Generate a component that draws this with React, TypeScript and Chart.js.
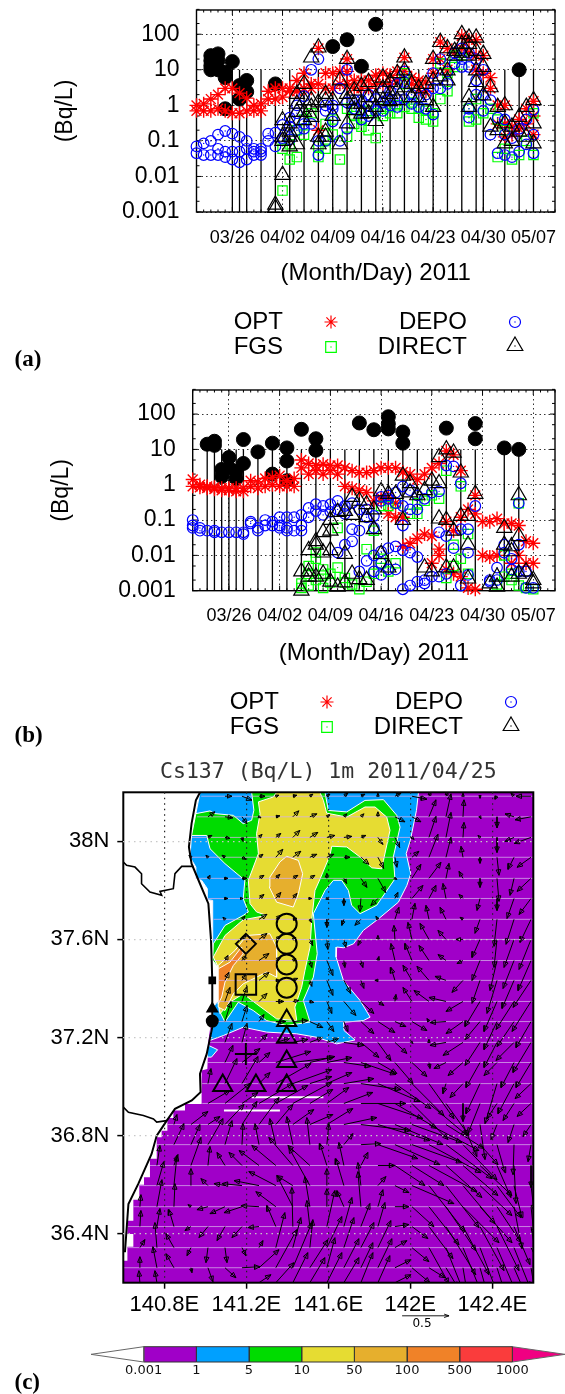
import React, { useEffect, useRef } from 'react';
import { Chart, registerables } from 'chart.js';
import { drawPoint } from 'chart.js/helpers';

Chart.register(...registerables);

type Group = [number, number[]];

// ---------- shared axis values ----------
const dateTickDays = [5, 12, 19, 26, 33, 40, 47];
const dateTickLabels = ['03/26', '04/02', '04/09', '04/16', '04/23', '04/30', '05/07'];
const logTicks = [100, 10, 1, 0.1, 0.01, 0.001];

// ---------- panel (a) ----------
const obsA: Group[] = [[2, [25, 18, 13, 10]], [3, [28, 18, 10]], [4, [8.5, 6, 0.8]], [5, [17]], [6, [3.6, 1.5]], [7, [5, 2.4]], [11, [4]], [19, [45]], [21, [70]], [23, [12.5]], [25, [190]], [45, [10]]];
const impulseDaysA = [5, 6, 7, 9, 11, 13, 15, 17, 19, 21, 23, 25, 27, 29, 31, 33, 35, 37, 39, 40, 43, 45, 47];
const impulseTopsA = [17, 10, 5, 10, 4, 10, 10, 10, 10, 10, 10, 10, 10, 10, 10, 10, 10, 10, 10, 10, 10, 10, 10];
const optA: Group[] = [[0, [1, 0.7]], [1, [1.1, 0.7]], [2, [1.5, 0.7]], [3, [2, 0.8]], [4, [3, 0.7]], [5, [3, 0.6]], [6, [2.2, 0.6]], [7, [1.6, 0.7]], [8, [1, 0.7]], [9, [1.1, 0.7]], [10, [2.5, 1.5]], [11, [3, 1.5]], [12, [3, 1.7]], [13, [3, 2.5]], [14, [5, 2.5]], [15, [8, 3]], [16, [4, 3]], [17, [40, 4, 0.2]], [18, [8, 3]], [19, [8, 3]], [20, [9, 4]], [21, [20, 9, 4]], [22, [5, 3]], [23, [5, 3]], [24, [5, 3]], [25, [7, 4]], [26, [8, 4]], [27, [7, 4]], [28, [9, 5]], [29, [22, 9]], [30, [6, 4]], [31, [5, 3]], [32, [4.5, 2.5]], [33, [20, 8]], [34, [60, 20]], [35, [40, 10]], [36, [30]], [37, [90, 40]], [38, [70, 30]], [39, [70, 25, 10]], [40, [25, 8]], [41, [6, 3]], [42, [1, 0.3]], [43, [1, 0.3, 0.13]], [44, [0.25, 0.15]], [45, [0.4, 0.22]], [46, [0.8, 0.3]], [47, [1.3, 0.5, 0.15]]];
const fgsA: Group[] = [[12, [0.004, 0.06]], [13, [0.03, 0.08]], [14, [0.035, 0.2]], [15, [0.15, 0.4]], [16, [0.6]], [17, [0.035, 0.07]], [18, [0.06, 0.3, 0.1]], [19, [0.15, 0.4]], [20, [0.03]], [21, [0.13, 0.8]], [22, [0.5, 0.3]], [23, [0.25, 0.4]], [24, [0.2, 0.7]], [25, [0.12, 0.6]], [26, [0.5, 0.8]], [27, [0.6, 0.9]], [28, [0.6, 1]], [29, [0.9, 4, 8]], [30, [0.8, 1.2]], [31, [0.45, 0.8]], [32, [0.4, 0.7]], [33, [0.35, 0.6]], [34, [15, 1.5]], [35, [2.5, 8]], [36, [12, 25]], [37, [14, 30]], [38, [0.35, 0.8]], [39, [1.5, 0.4]], [40, [0.6]], [41, [0.8]], [42, [0.035, 0.4]], [43, [0.06, 0.2]], [44, [0.03]], [45, [0.04]], [46, [0.1]], [47, [0.04, 0.6]]];
const depoA: Group[] = [[0, [0.07, 0.045]], [1, [0.085, 0.04]], [2, [0.1, 0.04]], [3, [0.15, 0.06, 0.04]], [4, [0.19, 0.05, 0.035]], [5, [0.16, 0.05, 0.03]], [6, [0.13, 0.05, 0.025]], [7, [0.1, 0.06, 0.03]], [8, [0.06, 0.05, 0.04]], [9, [0.06, 0.05, 0.04]], [10, [0.16, 0.1]], [11, [0.17, 0.07]], [12, [0.28, 0.12]], [13, [0.45, 0.25, 0.11]], [14, [1, 0.6, 0.2]], [15, [1.8, 0.22, 0.3]], [16, [10, 0.3]], [17, [20, 0.04, 0.1]], [18, [1, 0.7, 0.1]], [19, [1, 0.35, 0.8]], [20, [3, 0.1]], [21, [10, 1.2, 0.22]], [22, [1.4, 0.8]], [23, [1.4, 0.7, 0.4]], [24, [2, 1, 0.5]], [25, [1.5, 0.7]], [26, [2.5, 1.2, 0.7]], [27, [2.5, 1.5, 1]], [28, [4, 1.5, 0.9]], [29, [9, 4.5, 1.5]], [30, [2, 1.1]], [31, [1.6, 0.9]], [32, [2, 0.8]], [33, [8, 3, 0.55]], [34, [20, 3]], [35, [9, 4]], [36, [15, 30]], [37, [40, 20, 12]], [38, [30, 12, 0.8, 0.45]], [39, [20, 5, 2]], [40, [10, 1.9, 0.7]], [41, [1.4, 0.15]], [42, [0.45, 0.045]], [43, [0.4, 0.15, 0.04]], [44, [0.12, 0.035]], [45, [0.22, 0.05]], [46, [0.4, 0.08]], [47, [0.75, 0.15, 0.045]]];
const directA: Group[] = [[11, [0.0016, 0.0013]], [12, [0.011, 0.38, 0.13, 0.1]], [13, [0.31, 0.18, 0.13, 0.07]], [14, [2.1, 1.1, 0.65, 0.08]], [15, [4, 1.4, 0.65, 0.38]], [16, [22, 1.4, 0.9, 0.47]], [17, [42, 0.13, 0.08, 1.2]], [18, [2.1, 1.4, 0.18, 0.13]], [19, [1.4, 0.5]], [20, [5, 0.08]], [21, [20, 2.1, 1.4, 0.31]], [22, [2.6, 1.1, 0.73]], [23, [3.5, 1.1, 0.58]], [24, [4.5, 1.7, 0.6]], [25, [0.36, 1.7, 0.9]], [26, [6, 3, 1.4]], [27, [4.5, 2.1, 1.3]], [28, [8, 2.6, 1.4]], [29, [22, 9.5, 3.2]], [30, [4, 1.7]], [31, [3, 1.7]], [32, [4, 1.4]], [33, [20, 5, 0.9]], [34, [60, 6.5]], [35, [40, 9.5, 5]], [36, [34, 25]], [37, [100, 53, 30]], [38, [80, 53, 25, 1.7, 0.9]], [39, [80, 34, 9.5, 4.5]], [40, [28, 12, 1.9]], [41, [3.2, 0.25]], [42, [0.9, 0.2]], [43, [1, 0.31, 0.085]], [44, [0.25, 0.1]], [45, [0.47, 0.18]], [46, [0.9, 0.13]], [47, [1.4, 0.31, 0.085]]];

// ---------- panel (b) ----------
const obsB: Group[] = [[2, [14]], [3, [17, 13]], [4, [2.7, 1.7]], [5, [5.9, 3]], [6, [2.4, 1.5]], [7, [19, 4]], [9, [8.5]], [11, [15, 2]], [13, [11, 4.7, 1.3]], [15, [37]], [17, [20, 9.5]], [23, [56]], [25, [36]], [27, [84, 53, 38]], [29, [31, 15]], [35, [40]], [39, [54, 20]], [43, [11]], [45, [10]]];
const impulseDaysB = [2, 3, 4, 5, 6, 7, 9, 11, 13, 15, 17, 19, 21, 23, 25, 27, 29, 31, 33, 35, 37, 39, 43, 45];
const impulseTopsB = [10, 10, 10, 10, 10, 10, 10, 10, 10, 10, 10, 10, 10, 10, 10, 10, 10, 10, 10, 10, 10, 10, 10, 10];
const optB: Group[] = [[0, [1.4, 0.9]], [1, [1, 0.85]], [2, [0.9, 0.8]], [3, [0.85, 0.75]], [4, [0.8, 0.7]], [5, [0.8, 0.7]], [6, [0.8, 0.65]], [7, [0.8, 0.65]], [8, [1.3, 0.9]], [9, [1.2, 0.8]], [10, [1.5, 0.9]], [11, [1.6, 1]], [12, [1.8, 0.9]], [13, [1.3, 0.9]], [14, [1.5, 0.9]], [15, [5, 3]], [16, [4, 2]], [17, [3.5, 2.5]], [18, [3.8, 2]], [19, [3.5, 2.5]], [20, [3.5, 2]], [21, [3, 0.9]], [22, [2.5, 0.8]], [23, [2.2, 0.7]], [24, [2.2, 0.6]], [25, [2.5, 0.35]], [26, [3, 0.43, 0.35]], [27, [3, 0.43, 0.15]], [28, [3, 0.3, 0.12]], [29, [2.3, 0.12, 0.018]], [30, [2, 0.022]], [31, [1.4, 0.03]], [32, [2, 0.04]], [33, [3, 0.035, 0.006]], [34, [4, 0.015, 0.01]], [35, [9, 0.09, 0.004]], [36, [7, 0.05, 0.003]], [37, [2.5, 0.12, 0.0025]], [38, [0.2, 0.0012]], [39, [0.5, 0.15, 0.0011]], [40, [0.09, 0.01]], [41, [0.09, 0.009]], [42, [0.11, 0.01]], [43, [0.08]], [44, [0.08, 0.006]], [45, [0.07, 0.01]], [46, [0.025, 0.006]], [47, [0.022, 0.006]]];
const fgsB: Group[] = [[15, [0.0016, 0.0012]], [16, [0.005, 0.003, 0.0014]], [17, [0.008, 0.012, 0.002]], [18, [0.004, 0.0012, 0.0027]], [19, [0.003, 0.0017]], [20, [0.06, 0.0045]], [21, [0.0023, 0.0017]], [22, [0.0015]], [23, [0.0011]], [24, [0.015, 0.0018]], [25, [0.05, 0.003]], [26, [0.25, 0.006, 0.008]], [27, [0.25, 0.0035]], [28, [0.3, 0.006]], [30, [0.15]], [31, [0.15, 0.3]], [32, [0.35]], [33, [0.5]], [34, [0.4]], [35, [2.5, 0.0023]], [36, [0.02, 0.005]], [37, [0.9, 0.008]], [38, [0.04, 0.003]], [42, [0.0015]], [43, [0.0025, 0.01]], [44, [0.002, 0.003]], [45, [0.3, 0.0014]], [46, [0.0012]], [47, [0.0011]]];
const depoB: Group[] = [[0, [0.1, 0.07, 0.06]], [1, [0.06, 0.05]], [2, [0.05]], [3, [0.05, 0.045]], [4, [0.045]], [5, [0.045]], [6, [0.045]], [7, [0.04, 0.045]], [8, [0.09, 0.08]], [9, [0.06, 0.05]], [10, [0.1, 0.07]], [11, [0.09, 0.07]], [12, [0.12, 0.06, 0.07]], [13, [0.12, 0.05, 0.06]], [14, [0.12, 0.05]], [15, [0.14, 0.07, 0.05]], [16, [0.22, 0.12]], [17, [0.28, 0.18]], [18, [0.25, 0.14]], [19, [0.28, 0.17]], [20, [0.35, 0.2, 0.012]], [21, [0.25, 0.15, 0.02]], [22, [0.3, 0.055, 0.025]], [23, [0.2, 0.05, 0.0035]], [24, [0.2, 0.12, 0.007]], [25, [0.13, 0.06, 0.0035, 0.01]], [26, [0.45, 0.35, 0.013, 0.0028, 0.006]], [27, [0.4, 0.5, 0.016, 0.004]], [28, [0.6, 0.3, 0.018, 0.004]], [29, [0.9, 0.25, 0.07, 0.014, 0.0011]], [30, [0.7, 0.2, 0.012, 0.0014]], [31, [0.5, 0.2, 0.009, 0.0018]], [32, [0.4, 0.002, 0.0016]], [33, [0.6, 0.0025]], [34, [0.65, 0.045, 0.0025]], [35, [3.5, 0.035, 0.003]], [36, [3.3, 0.016]], [37, [1.1, 0.055, 0.0014]], [38, [0.055, 0.012, 0.0028]], [39, [0.25]], [41, [0.0018, 0.002]], [42, [0.0045, 0.002]], [43, [0.02, 0.012]], [44, [0.008, 0.004]], [45, [0.3, 0.02, 0.0035]], [46, [0.0035, 0.0012]], [47, [0.0012]]];
const directB: Group[] = [[15, [0.001, 0.0035]], [16, [0.0035, 0.014, 0.0025]], [17, [0.02, 0.025, 0.0025]], [18, [0.045, 0.012, 0.003]], [19, [0.05, 0.014, 0.1, 0.0018]], [20, [0.17, 0.0013]], [21, [0.011, 0.18, 0.0017]], [22, [0.45, 0.14, 0.003]], [23, [0.35, 0.0021]], [24, [0.28, 0.12, 0.002]], [25, [0.2, 0.055]], [26, [0.65, 0.011]], [27, [0.55, 0.0045]], [28, [0.55]], [29, [1.8, 0.1]], [30, [1.1, 0.6]], [31, [0.5]], [32, [0.7, 0.0045]], [33, [1.3, 0.0035]], [34, [6, 1.1, 0.11]], [35, [10, 0.1, 0.0045]], [36, [8, 0.05, 0.0045]], [37, [2.2, 0.13]], [38, [0.13, 0.02, 0.0022]], [39, [0.55]], [41, [0.0016]], [42, [0.0025, 0.0013]], [43, [0.06, 0.02]], [44, [0.018, 0.0025, 0.013]], [45, [0.5, 0.035, 0.003]], [46, [0.0035]], [47, [0.002, 0.0016]]];

// ---------- panel (c): map outlines, [lon, lat] ----------
const oceanOutline = [[140.974, 38.2], [140.954, 38.113], [140.933, 38.024], [140.925, 37.936], [140.954, 37.895], [140.954, 37.848], [140.982, 37.841], [141.01, 37.807], [141.01, 37.762], [141.036, 37.759], [141.036, 37.514], [141.063, 37.487], [141.063, 37.351], [141.039, 37.324], [141.015, 37.188], [141.01, 37.072], [140.982, 37.065], [140.982, 36.929], [140.901, 36.929], [140.901, 36.902], [140.844, 36.902], [140.844, 36.872], [140.815, 36.872], [140.815, 36.82], [140.787, 36.82], [140.787, 36.793], [140.763, 36.793], [140.763, 36.705], [140.73, 36.705], [140.73, 36.63], [140.701, 36.63], [140.701, 36.599], [140.678, 36.599], [140.678, 36.538], [140.649, 36.538], [140.649, 36.453], [140.62, 36.453], [140.62, 36.399], [140.649, 36.399], [140.649, 36.347], [140.62, 36.347], [140.62, 36.29], [140.6, 36.29], [140.6, 36.2], [142.6, 36.2], [142.6, 38.2]];
const contour1 = [[142.04, 38.2], [142.03, 38.126], [142.0, 38.004], [141.98, 37.95], [142.002, 37.868], [141.983, 37.82], [141.942, 37.752], [141.845, 37.684], [141.771, 37.637], [141.723, 37.582], [141.674, 37.566], [141.641, 37.569], [141.638, 37.528], [141.674, 37.432], [141.755, 37.351], [141.804, 37.283], [141.771, 37.269], [141.674, 37.262], [141.677, 37.228], [141.73, 37.19], [141.641, 37.174], [141.543, 37.201], [141.446, 37.215], [141.299, 37.222], [141.185, 37.242], [141.088, 37.208], [141.023, 37.188], [141.039, 37.324], [141.063, 37.351], [141.063, 37.487], [141.036, 37.514], [141.036, 37.759], [141.01, 37.762], [141.01, 37.807], [140.982, 37.841], [140.954, 37.848], [140.954, 37.895], [140.925, 37.936], [140.933, 38.024], [140.954, 38.113], [140.974, 38.2]];
const contour1Small = [[141.01, 37.17], [141.06, 37.15], [141.03, 37.12], [141.01, 37.12]];
const contour5 = [[141.226, 38.2], [141.584, 38.2], [141.6, 38.126], [141.69, 38.12], [141.779, 38.167], [141.869, 38.17], [141.934, 38.106], [141.95, 38.058], [141.917, 37.936], [141.925, 37.847], [141.836, 37.739], [141.755, 37.705], [141.714, 37.739], [141.698, 37.8], [141.665, 37.841], [141.625, 37.841], [141.584, 37.8], [141.56, 37.759], [141.527, 37.705], [141.546, 37.542], [141.527, 37.446], [141.478, 37.351], [141.511, 37.263], [141.397, 37.249], [141.299, 37.269], [141.234, 37.31], [141.161, 37.344], [141.096, 37.263], [141.068, 37.31], [141.063, 37.351], [141.063, 37.487], [141.036, 37.514], [141.039, 37.582], [141.096, 37.657], [141.185, 37.698], [141.21, 37.712], [141.185, 37.766], [141.193, 37.841], [141.096, 37.909], [141.023, 37.97], [141.007, 38.024], [140.933, 38.024], [140.954, 38.113], [141.023, 38.124], [141.047, 38.113], [141.137, 38.106], [141.185, 38.072], [141.226, 38.086], [141.237, 38.127]];
const contour10 = [[141.348, 38.2], [141.559, 38.2], [141.576, 38.167], [141.592, 38.115], [141.69, 38.099], [141.779, 38.14], [141.828, 38.14], [141.885, 38.099], [141.901, 38.045], [141.869, 37.922], [141.861, 37.888], [141.812, 37.892], [141.755, 37.936], [141.69, 37.977], [141.617, 37.98], [141.608, 37.943], [141.56, 37.847], [141.535, 37.8], [141.519, 37.678], [141.511, 37.569], [141.486, 37.473], [141.47, 37.405], [141.437, 37.324], [141.446, 37.269], [141.348, 37.276], [141.25, 37.337], [141.185, 37.378], [141.12, 37.344], [141.072, 37.297], [141.063, 37.378], [141.063, 37.487], [141.039, 37.528], [141.096, 37.616], [141.185, 37.68], [141.299, 37.698], [141.25, 37.712], [141.218, 37.746], [141.21, 37.841], [141.259, 37.95], [141.25, 38.031], [141.267, 38.113], [141.259, 38.161], [141.332, 38.181]];
const contour50North = [[141.397, 37.939], [141.454, 37.922], [141.475, 37.868], [141.454, 37.786], [141.429, 37.732], [141.348, 37.752], [141.312, 37.814], [141.315, 37.854], [141.364, 37.916]];
const contour50South = [[141.202, 37.616], [141.315, 37.623], [141.348, 37.569], [141.348, 37.446], [141.299, 37.467], [141.25, 37.446], [141.185, 37.419], [141.137, 37.378], [141.096, 37.31], [141.063, 37.324], [141.063, 37.494], [141.145, 37.555]];
const contour100 = [[141.063, 37.48], [141.12, 37.507], [141.177, 37.569], [141.185, 37.541], [141.137, 37.494], [141.096, 37.426], [141.08, 37.365], [141.063, 37.337]];
const coastLine = [[140.974, 38.199], [140.954, 38.167], [140.933, 38.072], [140.92, 37.977], [140.933, 37.909], [140.974, 37.827], [141.015, 37.746], [141.028, 37.596], [141.034, 37.433], [141.034, 37.242], [141.007, 37.133], [140.974, 37.052], [140.977, 36.977], [140.934, 36.943], [140.852, 36.909], [140.812, 36.861], [140.763, 36.8], [140.738, 36.725], [140.673, 36.603], [140.625, 36.521], [140.608, 36.324]];
const borderNorth = [[140.6, 37.916], [140.616, 37.902], [140.657, 37.895], [140.689, 37.868], [140.689, 37.827], [140.73, 37.793], [140.787, 37.78], [140.779, 37.796], [140.844, 37.807], [140.852, 37.868], [140.885, 37.898], [140.941, 37.898]];
const borderSouth = [[140.6, 36.916], [140.625, 36.895], [140.698, 36.882], [140.747, 36.868], [140.763, 36.855], [140.812, 36.861]];
const whiteStreaks = [[[141.226, 36.956], [141.576, 36.956]], [[141.091, 36.902], [141.364, 36.902]]];

// ---------- panel (c): sites ----------
const circleSites = [[141.397, 37.664], [141.397, 37.582], [141.397, 37.498], [141.397, 37.403]];
const triangleSites = [[141.397, 37.269], [141.397, 37.201], [141.397, 37.102], [141.397, 37.004], [141.085, 37.004], [141.247, 37.004]];
const squareSites = [[141.198, 37.416]];
const diamondSites = [[141.198, 37.582]];
const crossSites = [[141.198, 37.133]];
const plantSquare = [[141.034, 37.433]];
const plantTriangle = [[141.034, 37.317]];
const plantCircle = [[141.034, 37.267]];

// ---------- panel (c): current vectors ----------
const gridLons = [140.681, 140.764, 140.847, 140.93, 141.013, 141.096, 141.179, 141.262, 141.344, 141.427, 141.51, 141.593, 141.676, 141.759, 141.842, 141.925, 142.008, 142.091, 142.174, 142.257, 142.34, 142.423, 142.506, 142.589];
const gridLats = [38.184, 38.1, 38.016, 37.935, 37.849, 37.767, 37.682, 37.6, 37.514, 37.433, 37.347, 37.265, 37.18, 37.098, 37.012, 36.931, 36.845, 36.763, 36.678, 36.596, 36.51, 36.429, 36.343, 36.261, 36.2];
const rowStartLons = [140.98, 140.96, 140.935, 140.93, 140.955, 141.01, 141.04, 141.04, 141.04, 141.065, 141.065, 141.04, 141.02, 141.01, 140.985, 140.985, 140.815, 140.763, 140.73, 140.678, 140.649, 140.62, 140.62, 140.6];
// each row: column, u, v, column, u, v ... (cm/s, about one pixel per unit)
const currents: number[][] = [
  [5,7,0,6,10,-4,7,6,0,8,3,1,9,4,1,10,3,2,11,3,2,12,4,3,13,4,2,14,0,3,15,6,3,16,15,-3,17,2,5,18,2,5,19,0,3,20,0,-2,21,-2,-3,22,-3,3,23,-15,0],
  [4,7,5,5,8,-1,6,5,-7,7,2,-1,8,4,1,9,6,6,10,7,3,11,3,2,12,3,3,13,3,3,14,0,5,15,10,-5,16,9,-5,17,7,17,18,5,23,19,1,17,20,1,-2,21,0,-11,22,-9,3,23,-16,-3],
  [4,4,2,5,5,-1,6,1,-4,7,3,3,8,5,4,9,7,7,10,8,5,11,8,2,12,8,1,13,5,2,14,5,-7,15,5,-10,16,2,-2,17,7,21,18,5,25,19,1,15,20,-2,2,21,0,-15,22,-9,-4,23,-17,-6],
  [3,-2,2,4,-2,2,5,-3,2,6,4,-2,7,4,3,8,7,8,9,8,6,10,7,3,11,7,3,12,6,0,13,8,-7,14,6,-11,15,2,-10,16,7,6,17,9,23,18,5,20,19,-2,11,20,0,-6,21,2,-18,22,-6,-12,23,-14,-10],
  [4,2,3,5,3,0,6,5,0,7,5,3,8,4,4,9,5,3,10,5,3,11,0,5,12,3,-5,13,6,-9,14,8,-14,15,2,-1,16,9,14,17,12,16,18,3,15,19,-4,7,20,0,-9,21,2,-23,22,-4,-17,23,-14,-13],
  [5,3,0,6,1,0,7,5,4,8,5,6,9,4,5,10,2,0,11,2,-1,12,0,-7,13,-1,-13,14,-7,-7,15,3,6,16,11,13,17,7,13,18,-3,15,19,-4,4,20,-3,-12,21,0,-12,22,-7,-20,23,-12,-16],
  [5,-2,2,6,3,3,7,8,5,8,5,4,9,4,1,10,2,-3,11,0,-8,12,-2,-6,13,-6,-6,14,-2,3,15,4,12,16,3,16,17,-3,14,18,-6,12,19,-3,2,20,-5,-14,21,-3,-27,22,-8,-25,23,-11,-23],
  [6,4,4,7,8,6,8,5,3,9,3,2,10,3,-6,11,1,-10,12,2,-8,13,-3,-6,14,0,4,15,-1,14,16,-4,17,17,-9,16,18,-8,9,19,-7,0,20,-8,-18,21,-3,-28,22,-10,-28,23,-12,-30],
  [5,3,5,6,4,5,7,10,7,8,5,3,9,3,2,10,2,-7,11,6,-15,12,1,-7,13,2,-7,14,1,4,15,-4,17,16,-7,17,17,-10,15,18,-8,6,19,-6,-3,20,-8,-20,21,-7,-30,22,-11,-28,23,-13,-30],
  [5,4,8,6,4,6,7,10,8,8,4,0,9,5,2,10,2,-6,11,6,-15,12,7,-13,13,3,-8,14,-3,0,15,-4,13,16,-9,15,17,-12,14,18,-11,4,19,-11,-12,20,-8,-23,21,-10,-33,22,-12,-28,23,-18,-27],
  [5,5,14,6,5,15,7,8,8,8,8,0,9,6,1,10,4,-1,11,5,-12,12,12,-14,13,13,-12,14,6,-4,15,1,7,16,-9,14,17,-15,11,18,-17,4,19,-17,-10,20,-15,-25,21,-13,-30,22,-18,-28,23,-19,-30],
  [5,6,20,6,5,16,7,5,7,8,10,0,9,15,1,10,13,-6,11,7,-10,12,4,-10,13,13,-12,14,17,-11,15,11,-5,16,15,-9,17,-2,3,18,-16,-1,19,-17,-12,20,-15,-18,21,-13,-28,22,-17,-25,23,-15,-26],
  [5,7,19,6,5,19,7,8,8,8,14,4,9,15,3,10,13,5,11,12,4,12,20,-3,13,18,-15,14,13,-18,15,12,-11,16,1,-1,17,0,3,18,-16,-3,19,-20,-13,20,-15,-23,21,-13,-25,22,-18,-18,23,-18,-30],
  [5,8,17,6,18,14,7,11,10,8,35,11,9,40,5,10,25,6,11,25,5,12,27,-4,13,35,-12,14,19,-11,15,18,-21,16,15,-14,17,1,-6,18,-12,-6,19,-15,-13,20,-14,-25,21,-13,-13,22,-13,-25,23,-15,-25],
  [4,3,15,5,12,25,6,16,27,7,11,11,8,35,20,9,39,14,10,22,7,11,25,11,12,30,5,13,40,-6,14,42,-18,15,36,-25,16,32,-32,17,25,-35,18,-3,-10,19,-13,-14,20,-14,-30,21,-12,-40,22,-16,-30,23,-16,-15],
  [4,22,13,5,25,20,6,16,11,7,34,20,8,32,18,9,39,21,10,23,14,11,22,16,12,29,11,13,45,0,14,45,-15,15,42,-25,16,36,-36,17,38,-32,18,23,-32,19,0,-18,20,-12,-30,21,-10,-15,22,-11,-17,23,-14,-13],
  [2,3,10,3,17,13,4,12,8,5,19,20,6,15,23,7,20,27,8,17,20,9,21,15,10,23,10,11,26,16,12,33,7,13,50,-6,14,52,-16,15,48,-20,16,50,-18,17,50,-26,18,38,-24,19,14,-32,20,5,-35,21,-6,-15,22,-6,-18,23,-8,-12],
  [2,10,21,3,9,20,4,15,26,5,7,24,6,1,21,7,-4,21,8,-6,26,9,-6,28,10,-3,27,11,2,21,12,9,11,13,20,1,14,40,-14,15,45,-20,16,50,-18,17,52,-28,18,46,-34,19,34,-35,20,18,-20,21,8,-28,22,-1,-30,23,-3,-17],
  [1,3,20,2,4,11,3,10,28,4,2,19,5,-8,13,6,-13,13,7,-20,15,8,-24,20,9,-24,28,10,-22,20,11,-7,22,12,-5,23,13,7,13,14,17,0,15,30,-20,16,32,-20,17,48,-26,18,36,-32,19,35,-30,20,32,-30,21,14,-32,22,2,-38,23,0,-22],
  [1,7,24,2,3,30,3,0,17,4,-7,7,5,-11,2,6,-20,2,7,-25,5,8,-27,14,9,-16,10,10,-21,38,11,0,17,12,-8,27,13,-3,23,14,8,9,15,14,-7,16,42,-18,17,36,-46,18,33,-42,19,32,-38,20,32,-30,21,24,-32,22,8,-32,23,3,-25],
  [0,1,12,1,5,27,2,1,23,3,-3,2,4,-11,-3,5,-15,-7,6,-18,-6,7,-18,1,8,-20,15,9,-16,31,10,-5,30,11,0,18,12,-7,16,13,-3,35,14,5,17,15,14,0,16,22,-20,17,30,-38,18,30,-44,19,36,-36,20,32,-36,21,24,-36,22,8,-42,23,3,-28],
  [0,1,16,1,3,18,2,-5,17,3,-6,-4,4,-9,-11,5,-8,-14,6,-10,-11,7,-11,-1,8,-9,21,9,-1,39,10,-3,26,11,8,36,12,8,29,13,9,23,14,7,24,15,14,2,16,16,-12,17,24,-32,18,30,-48,19,26,-48,20,24,-44,21,22,-44,22,16,-38,23,5,-30],
  [0,5,8,1,-2,25,2,-8,14,3,-4,-8,4,-2,-15,5,2,-15,6,4,-8,7,4,7,8,9,35,9,8,30,10,3,28,11,15,31,12,10,30,13,13,25,14,13,27,15,12,7,16,17,-14,17,20,-36,18,18,-45,19,18,-44,20,16,-42,21,18,-42,22,16,-40,23,15,-30],
  [0,0,11,1,-4,21,2,-8,14,3,1,-5,4,5,-14,5,11,-10,6,18,1,7,20,18,8,21,38,9,19,45,10,18,28,11,8,30,12,15,29,13,12,25,14,14,29,15,16,8,16,18,-15,17,16,-10,18,12,-20,19,5,-30,20,8,-28,21,8,-25,22,13,-30,23,5,-30],
  [0,-1,12,1,-2,12,7,12,8,8,18,20,9,15,30,10,15,25,11,15,30,12,15,25,13,12,30,14,12,27,15,16,8,16,18,-10],
];

// ---------- colour bar ----------
const levelLabels = ['0.001', '1', '5', '10', '50', '100', '500', '1000'];
const levelColors = ['#a000c8', '#00a0ff', '#00dc00', '#e6dc32', '#e6af2d', '#f08228', '#fa3c3c'];

// ---------- helpers ----------
const SANS = '"Liberation Sans", Arial, sans-serif';
const flat = (g: Group[]) => g.flatMap(([x, ys]) => ys.map((y) => ({ x, y })));
const pts = (a: number[][]) => a.map(([x, y]) => ({ x, y }));
const ring = (a: number[][]) => pts([...a, a[0]]);

function textPlugin(items: any[], markers: any[] = []) {
  return {
    id: 'panelText',
    afterDraw(chart: any) {
      const ctx = chart.ctx;
      ctx.save();
      ctx.textBaseline = 'middle';
      for (const t of items) {
        ctx.font = t.font;
        ctx.fillStyle = '#000';
        ctx.textAlign = t.align || 'left';
        ctx.fillText(t.text, t.x, t.y);
      }
      for (const m of markers) {
        ctx.strokeStyle = m.color;
        ctx.fillStyle = 'rgba(0,0,0,0)';
        ctx.lineWidth = 1.2;
        drawPoint(ctx, { pointStyle: m.style, radius: m.radius, borderWidth: 1.2, rotation: 0 }, m.x, m.y);
        if (m.dot) {
          ctx.fillStyle = m.color;
          ctx.fillRect(m.x - 0.6, m.y - 0.6, 1.2, 1.2);
        }
      }
      ctx.restore();
    },
  };
}

const gnuFrame = {
  id: 'gnuFrame',
  beforeDatasetsDraw(chart: any) {
    const { ctx, chartArea: a, scales } = chart;
    ctx.save();
    ctx.strokeStyle = '#000';
    ctx.lineWidth = 1;
    ctx.beginPath();
    for (let d = 0; d <= 50; d++) {
      const x = scales.x.getPixelForValue(d);
      const len = dateTickDays.includes(d) ? 5 : 2.5;
      ctx.moveTo(x, a.top); ctx.lineTo(x, a.top + len);
      ctx.moveTo(x, a.bottom); ctx.lineTo(x, a.bottom - len);
    }
    for (const dec of [0.001, 0.01, 0.1, 1, 10, 100]) {
      for (const m of [1, 2, 5]) {
        const y = scales.y.getPixelForValue(dec * m);
        const len = m === 1 ? 5 : 3;
        ctx.moveTo(a.left, y); ctx.lineTo(a.left + len, y);
        ctx.moveTo(a.right, y); ctx.lineTo(a.right - len, y);
      }
    }
    ctx.stroke();
    ctx.lineWidth = 1.4;
    ctx.strokeRect(a.left, a.top, a.right - a.left, a.bottom - a.top);
    ctx.restore();
  },
};

function timeSeriesConfig(p: any) {
  const impulses: any[] = [];
  p.impulseDays.forEach((d: number, i: number) => {
    impulses.push({ x: d, y: 0.001 }, { x: d, y: p.impulseTops[i] }, { x: NaN, y: NaN });
  });
  const marker = (label: string, data: any[], color: string, style: string, radius: number, width = 1.2) => ({
    label, data, pointStyle: style, pointRadius: radius, pointBorderColor: color, pointBackgroundColor: 'rgba(0,0,0,0)', pointBorderWidth: width, showLine: false, clip: false as any,
  });
  const dots = (label: string, data: any[], color: string) => ({
    label, data, pointStyle: 'circle', pointRadius: 0.7, pointBorderWidth: 0, pointBackgroundColor: color, showLine: false, clip: false as any,
  });
  const datasets: any[] = [
    { label: 'Observed', data: impulses, showLine: true, borderColor: '#000', borderWidth: 1.3, pointRadius: 0, clip: false },
    { label: 'Observed', data: flat(p.obs), showLine: false, pointRadius: 7, pointStyle: 'circle', pointBackgroundColor: '#000', pointBorderColor: '#000', clip: false },
    marker('OPT', flat(p.opt), '#ff0000', 'star', 7, 1.4),
    marker('FGS', flat(p.fgs), '#00ff00', 'rect', 6.6),
    dots('FGS', flat(p.fgs), '#00cc00'),
    marker('DEPO', flat(p.depo), '#0000ff', 'circle', 5.3),
    dots('DEPO', flat(p.depo), '#0000ff'),
    marker('DIRECT', flat(p.direct), '#000000', 'triangle', 8.8),
  ];
  datasets.forEach((d, i) => { d.order = -i; });
  return {
    type: 'scatter',
    data: { datasets },
    options: {
      animation: false, responsive: false, events: [],
      layout: { padding: { left: 0, top: p.top, right: p.right, bottom: p.canvasH - p.bottom - p.axisH } },
      plugins: { legend: { display: false }, tooltip: { enabled: false } },
      scales: {
        x: {
          type: 'linear', min: 0, max: 50,
          afterBuildTicks: (s: any) => { s.ticks = dateTickDays.map((value) => ({ value })); },
          afterFit: (s: any) => { s.height = p.axisH; s.paddingLeft = s.paddingRight = 0; },
          ticks: { autoSkip: false, maxRotation: 0, padding: 15, color: '#000', font: { family: SANS, size: 18 }, callback: (v: number) => dateTickLabels[dateTickDays.indexOf(v)] },
          grid: { color: '#000', lineWidth: 0.8, drawTicks: false },
          border: { display: false, dash: [1.5, 3] },
          title: { display: true, text: '(Month/Day) 2011', color: '#000', font: { family: SANS, size: 24 }, padding: { top: 0, bottom: p.titleBottom } },
        },
        y: {
          type: 'logarithmic', min: 0.001, max: 480,
          afterBuildTicks: (s: any) => { s.ticks = logTicks.map((value) => ({ value })); },
          afterFit: (s: any) => { s.width = p.left; s.paddingTop = s.paddingBottom = 0; },
          ticks: { autoSkip: false, padding: 17, color: '#000', font: { family: SANS, size: 23 }, callback: (v: number) => String(v) },
          grid: { color: '#000', lineWidth: 0.8, drawTicks: false },
          border: { display: false, dash: [1.5, 3] },
          title: { display: true, text: '(Bq/L)', color: '#000', font: { family: SANS, size: 23 }, padding: { top: p.yTitleTop, bottom: 0 } },
        },
      },
    },
    plugins: [gnuFrame, textPlugin(p.texts, p.markers)],
  };
}

function panelTexts(dx: number, dy: number, letter: string, letterX: number, letterY: number) {
  const f = `24px ${SANS}`;
  return {
    texts: [
      { text: 'OPT', x: 283 + dx, y: 322 + dy, font: f, align: 'right' },
      { text: 'FGS', x: 283 + dx, y: 347 + dy, font: f, align: 'right' },
      { text: 'DEPO', x: 467 + dx, y: 322 + dy, font: f, align: 'right' },
      { text: 'DIRECT', x: 467 + dx, y: 347 + dy, font: f, align: 'right' },
      { text: letter, x: letterX, y: letterY, font: `bold 23px "Liberation Serif", serif` },
    ],
    markers: [
      { style: 'star', color: '#ff0000', radius: 6.5, x: 331 + dx, y: 322 + dy },
      { style: 'rect', color: '#00ff00', radius: 7.5, x: 331 + dx, y: 347 + dy, dot: true },
      { style: 'circle', color: '#0000ff', radius: 5.5, x: 515 + dx, y: 322 + dy, dot: true },
      { style: 'triangle', color: '#000000', radius: 9, x: 515 + dx, y: 346 + dy, dot: true },
    ],
  };
}

function mapConfig() {
  const arrows: any[] = [];
  const pxLon = 205;
  const pxLat = 245;
  currents.forEach((row, r) => {
    for (let i = 0; i + 2 < row.length; i += 3) {
      const lon = gridLons[row[i]], lat = gridLats[r], u = row[i + 1], v = row[i + 2];
      const len = Math.hypot(u, v) || 1;
      const hl = Math.min(5.5, 2 + len * 0.35), hw = hl * 0.42;
      const ux = u / len, uy = v / len;
      const hx = u, hy = v;
      const b1x = hx - ux * hl - uy * hw, b1y = hy - uy * hl + ux * hw;
      const b2x = hx - ux * hl + uy * hw, b2y = hy - uy * hl - ux * hw;
      const at = (dx: number, dy: number) => ({ x: lon + dx / pxLon, y: lat + dy / pxLat });
      arrows.push(at(0, 0), at(hx, hy), at(b1x, b1y), at(b2x, b2y), at(hx, hy), { x: NaN, y: NaN });
    }
  });
  const rows: any[] = [];
  rowStartLons.forEach((lon, i) => {
    rows.push({ x: lon, y: gridLats[i] }, { x: 142.6, y: gridLats[i] }, { x: NaN, y: NaN });
  });
  const streaks = whiteStreaks.flatMap((s) => [...pts(s), { x: NaN, y: NaN }]);
  const area = (label: string, poly: number[][], color: string, edge = true) => ({
    label, data: ring(poly), showLine: true, fill: 'shape', backgroundColor: color, borderColor: edge ? '#ffffff' : color, borderWidth: edge ? 1 : 0, pointRadius: 0,
  });
  const line = (label: string, data: any[], color: string, width: number) => ({
    label, data, showLine: true, borderColor: color, borderWidth: width, pointRadius: 0,
  });
  const site = (label: string, data: number[][], style: string, radius: number, fill = false) => ({
    label, data: pts(data), showLine: false, pointStyle: style, pointRadius: radius, pointBorderColor: '#000', pointBorderWidth: 2, pointBackgroundColor: fill ? '#000' : 'rgba(0,0,0,0)',
  });
  const datasets: any[] = [
    area('ocean', oceanOutline, levelColors[0], false),
    area('1', contour1, levelColors[1]),
    area('1', contour1Small, levelColors[1]),
    area('5', contour5, levelColors[2]),
    area('10', contour10, levelColors[3]),
    area('50', contour50North, levelColors[4]),
    area('50', contour50South, levelColors[4]),
    area('100', contour100, levelColors[5]),
    line('rows', rows, 'rgba(215,175,235,0.75)', 1),
    line('streak', streaks, '#ffffff', 2),
    line('coast', pts(coastLine), '#000', 2),
    line('border', pts(borderNorth), '#000', 1.6),
    line('border', pts(borderSouth), '#000', 1.6),
    line('current', arrows, '#000', 1),
    site('circle', circleSites, 'circle', 10),
    site('triangle', triangleSites, 'triangle', 11),
    site('square', squareSites, 'rect', 14.5),
    site('diamond', diamondSites, 'rectRot', 10),
    site('cross', crossSites, 'cross', 11),
    site('plant', plantSquare, 'rect', 4, true),
    site('plant', plantTriangle, 'triangle', 5.5, true),
    site('plant', plantCircle, 'circle', 5.5, true),
    { label: 'scale', data: [{ x: 141.96, y: 36.065 }, { x: 142.189, y: 36.065 }], showLine: true, borderColor: '#000', borderWidth: 0.9, pointRadius: 0, clip: false },
    { label: 'scale', data: [{ x: 142.165, y: 36.072 }, { x: 142.189, y: 36.065 }, { x: 142.165, y: 36.058 }], showLine: true, borderColor: '#000', borderWidth: 0.9, pointRadius: 0, clip: false },
  ];
  datasets.forEach((d, i) => { d.order = -i; });
  const lonTicks = [140.8, 141.2, 141.6, 142, 142.4];
  const latTicks = [36.4, 36.8, 37.2, 37.6, 38];
  return {
    type: 'scatter',
    data: { datasets },
    options: {
      animation: false, responsive: false, events: [],
      layout: { padding: { left: 0, top: 0, right: 565 - 533.3, bottom: 634 - 522.7 - 50 } },
      plugins: {
        legend: { display: false }, tooltip: { enabled: false },
        title: { display: true, fullSize: false, text: 'Cs137 (Bq/L) 1m 2011/04/25', color: '#333', font: { family: '"DejaVu Sans Mono", monospace', size: 21.5, weight: 'normal' }, padding: { top: 0, bottom: 6.5 } },
      },
      scales: {
        x: {
          type: 'linear', min: 140.6, max: 142.6,
          afterBuildTicks: (s: any) => { s.ticks = lonTicks.map((value) => ({ value })); },
          afterFit: (s: any) => { s.height = 50; s.paddingLeft = s.paddingRight = 0; },
          ticks: { autoSkip: false, maxRotation: 0, padding: 3, color: '#000', font: { family: SANS, size: 22 }, callback: (v: number) => `${v}E` },
          grid: { color: '#222', z: 1, lineWidth: 1.2, tickColor: '#000', tickLength: 6, tickWidth: 1.5, tickBorderDash: [] },
          border: { display: false, dash: [1.5, 4] },
        },
        y: {
          type: 'linear', min: 36.2, max: 38.2,
          afterBuildTicks: (s: any) => { s.ticks = latTicks.map((value) => ({ value })); },
          afterFit: (s: any) => { s.width = 123.3; s.paddingTop = s.paddingBottom = 0; },
          ticks: { autoSkip: false, padding: 8, color: '#000', font: { family: SANS, size: 22 }, callback: (v: number) => `${v}N` },
          grid: { color: '#c8c8c8', z: 1, lineWidth: 1.2, tickColor: '#000', tickLength: 6, tickWidth: 1.5, tickBorderDash: [] },
          border: { display: false, dash: [1.5, 4] },
        },
      },
    },
    plugins: [
      { id: 'mapFrame', afterDatasetsDraw(chart: any) {
        const { ctx, chartArea: a } = chart;
        ctx.save(); ctx.strokeStyle = '#000'; ctx.lineWidth = 2;
        ctx.strokeRect(a.left, a.top, a.right - a.left, a.bottom - a.top);
        ctx.restore();
      } },
      textPlugin([{ text: '0.5', x: 422, y: 1324 - 760, font: '12px "DejaVu Sans", sans-serif', align: 'center' }]),
    ],
  };
}

function barConfig() {
  const datasets: any[] = [
    { label: 'below', data: ring([[0, 0], [-1, 0.5], [0, 1]]), showLine: true, fill: 'shape', backgroundColor: '#ffffff', borderColor: '#666', borderWidth: 1, pointRadius: 0, clip: false },
    ...levelColors.map((c, i) => ({
      label: levelLabels[i], data: ring([[i, 0], [i + 1, 0], [i + 1, 1], [i, 1]]), showLine: true, fill: 'shape', backgroundColor: c, borderColor: '#333', borderWidth: 1, pointRadius: 0, clip: false,
    })),
    { label: 'above', data: ring([[7, 0], [8, 0.5], [7, 1]]), showLine: true, fill: 'shape', backgroundColor: '#f00082', borderColor: '#666', borderWidth: 1, pointRadius: 0, clip: false },
  ];
  return {
    type: 'scatter',
    data: { datasets },
    options: {
      animation: false, responsive: false, events: [],
      layout: { padding: { left: 91, top: 11.7, right: 0, bottom: 59 - 27 - 20 } },
      plugins: { legend: { display: false }, tooltip: { enabled: false } },
      scales: {
        x: {
          type: 'linear', min: -1, max: 8,
          afterBuildTicks: (s: any) => { s.ticks = levelLabels.map((_, value) => ({ value })); },
          afterFit: (s: any) => { s.height = 20; s.paddingLeft = s.paddingRight = 0; },
          ticks: { autoSkip: false, maxRotation: 0, padding: 1, color: '#111', font: { family: '"DejaVu Sans", sans-serif', size: 13 }, callback: (v: number) => levelLabels[v] },
          grid: { display: false, drawTicks: false },
          border: { display: false },
        },
        y: { type: 'linear', min: 0, max: 1, display: false },
      },
    },
    plugins: [textPlugin([{ text: '(c)', x: 14.5, y: 48, font: 'bold 23px "Liberation Serif", serif' }])],
  };
}

function ChartCanvas({ top, height, make }: { top: number; height: number; make: () => any }) {
  const ref = useRef<HTMLCanvasElement>(null);
  useEffect(() => {
    const chart = new Chart(ref.current as HTMLCanvasElement, make());
    return () => chart.destroy();
  }, []);
  return <canvas ref={ref} width={565} height={height} style={{ position: 'absolute', left: 0, top, width: 565, height, display: 'block' }} />;
}

export default function App() {
  const a = () => timeSeriesConfig({
    obs: obsA, impulseDays: impulseDaysA, impulseTops: impulseTopsA, opt: optA, fgs: fgsA, depo: depoA, direct: directA,
    canvasH: 380, top: 9, bottom: 212, left: 196.5, right: 6, axisH: 100, titleBottom: 24.6, yTitleTop: 52,
    ...panelTexts(0, 0, '(a)', 14.5, 360),
  });
  const b = () => timeSeriesConfig({
    obs: obsB, impulseDays: impulseDaysB, impulseTops: impulseTopsB, opt: optB, fgs: fgsB, depo: depoB, direct: directB,
    canvasH: 380, top: 6.7, bottom: 210.7, left: 192.7, right: 9.7, axisH: 100, titleBottom: 23.3, yTitleTop: 48,
    ...panelTexts(-4, 0, '(b)', 14.5, 356),
  });
  return (
    <div style={{ position: 'absolute', left: 0, top: 0, width: 565, height: 1394, overflow: 'hidden', background: '#fff' }}>
      <ChartCanvas top={0} height={380} make={a} />
      <ChartCanvas top={380} height={380} make={b} />
      <ChartCanvas top={760} height={634} make={mapConfig} />
      <ChartCanvas top={1335} height={59} make={barConfig} />
    </div>
  );
}
